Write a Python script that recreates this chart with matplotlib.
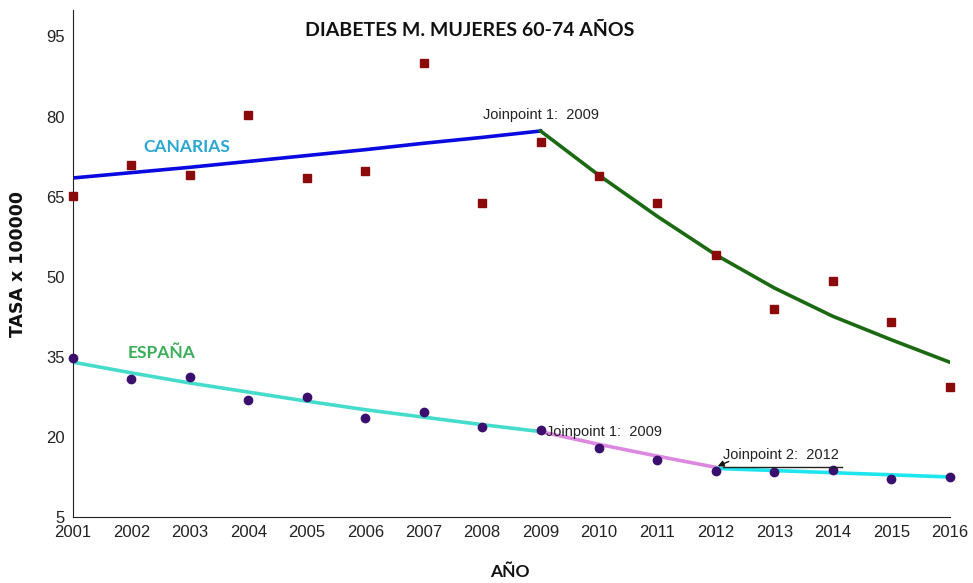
import matplotlib
matplotlib.use("Agg")
import matplotlib.pyplot as plt

# --- datos ---
anios = list(range(2001, 2017))

canarias_obs = [65.1, 70.9, 69.0, 80.3, 68.5, 69.8, 90.1, 63.8, 75.2,
                68.9, 63.8, 54.1, 44.0, 49.2, 41.5, 29.4]
espana_obs = [34.7, 30.9, 31.3, 27.0, 27.5, 23.5, 24.7, 21.8, 21.3,
              18.0, 15.7, 13.7, 13.4, 13.8, 12.2, 12.4]

# tramos del modelo joinpoint
can_t1_x = anios[0:9]
can_t1_y = [68.5, 69.5, 70.5, 71.6, 72.7, 73.8, 75.0, 76.1, 77.3]
can_t2_x = anios[8:]
can_t2_y = [77.3, 69.0, 61.3, 54.1, 47.9, 42.6, 38.2, 34.0]

esp_t1_x = anios[0:9]
esp_t1_y = [34.0, 32.0, 30.1, 28.4, 26.7, 25.1, 23.7, 22.3, 21.0]
esp_t2_x = anios[8:12]
esp_t2_y = [21.0, 18.6, 16.4, 14.3]
esp_t3_x = anios[11:]
esp_t3_y = [14.1, 13.7, 13.3, 12.9, 12.5]

yticks = [5, 20, 35, 50, 65, 80, 95]

tick_font = ['Liberation Sans Narrow', 'Liberation Sans', 'DejaVu Sans']

fig = plt.figure(figsize=(9.73, 5.83), dpi=100)
ax = fig.add_axes([0.075, 0.1132, 0.901, 0.87])

# Canarias
ax.plot(can_t1_x, can_t1_y, color='#0a0ae0', linewidth=2.6, zorder=2)
ax.plot(can_t2_x, can_t2_y, color='#1b6a12', linewidth=2.6, zorder=2,
        solid_joinstyle='round')
ax.plot(anios, canarias_obs, linestyle='none', marker='s', markersize=6,
        color='#8b0a0a', zorder=3, clip_on=False)

# España
ax.plot(esp_t1_x, esp_t1_y, color='#45dccb', linewidth=2.6, zorder=2)
ax.plot(esp_t2_x, esp_t2_y, color='#dd88e0', linewidth=2.6, zorder=2)
ax.plot(esp_t3_x, esp_t3_y, color='#1ee6ee', linewidth=2.6, zorder=2)
ax.plot(anios, espana_obs, linestyle='none', marker='o', markersize=6,
        color='#3a0f6e', zorder=3, clip_on=False)

# etiquetas de series
ax.text(2002.95, 74.3, 'CANARIAS', color='#2aa6d2', fontsize=12.5,
        fontweight='bold', family='Lato', ha='center', va='center')
ax.text(2002.52, 35.8, 'ESPAÑA', color='#3aae58', fontsize=12.5,
        fontweight='bold', family='Lato', ha='center', va='center')

# joinpoints
ax.text(2009.0, 80.3, 'Joinpoint 1:  2009', fontsize=10.5, family=tick_font,
        color='#222222', ha='center', va='center')
ax.text(2009.1, 21.0, 'Joinpoint 1:  2009', fontsize=10.5, family=tick_font,
        color='#222222', ha='left', va='center')
ax.text(2012.12, 16.6, 'Joinpoint 2:  2012', fontsize=10.5, family=tick_font,
        color='#222222', ha='left', va='center')
ax.plot([2012.12, 2014.15], [14.3, 14.3], color='#222222', linewidth=1, zorder=4)
ax.annotate('', xy=(2012.03, 14.5), xytext=(2012.22, 15.4),
            arrowprops=dict(arrowstyle='-|>', color='#111111', lw=1,
                            mutation_scale=9, shrinkA=0, shrinkB=0))

ax.set_xlim(2001, 2016)
ax.set_ylim(5, 100)
ax.set_xticks(anios)
ax.set_yticks(yticks)
ax.tick_params(length=0, labelsize=12, colors='#222222', pad=6)
for lab in ax.get_xticklabels() + ax.get_yticklabels():
    lab.set_family(tick_font)

for s in ['top', 'right']:
    ax.spines[s].set_visible(False)
ax.spines['left'].set_color('#222222')
ax.spines['bottom'].set_color('#222222')

fig.text(0.483, 0.948, 'DIABETES M. MUJERES 60-74 AÑOS', fontsize=14,
         fontweight='bold', family='Lato', ha='center', va='center', color='#111111')
fig.text(0.524, 0.019, 'AÑO', fontsize=12.5, fontweight='bold', family='Lato',
         ha='center', va='center', color='#111111')
fig.text(0.019, 0.548, 'TASA x 100000', fontsize=12.5, fontweight='bold',
         family='DejaVu Sans', rotation=90, ha='center', va='center', color='#111111')

fig.savefig('out.png', dpi=100)
